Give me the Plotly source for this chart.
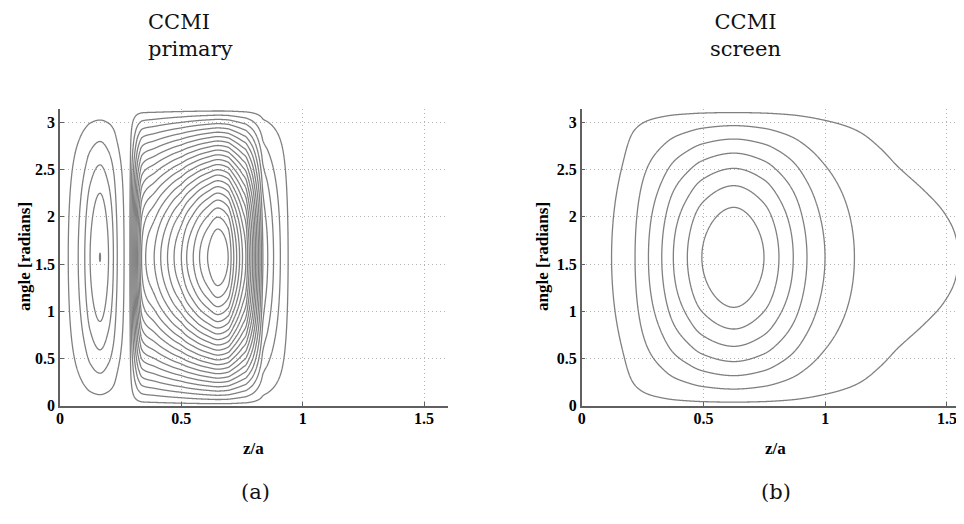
import numpy as np
import plotly.graph_objects as go

# ---------------- values ----------------
# Contours are of  g(z/a) * sin(angle)  with evenly spaced levels.
# For every drawn contour: its level and where it crosses the mid-line angle.

# (a) CCMI primary - small positive cell
a_cell1_levels = [0.0235, 0.0680, 0.1125, 0.1570]
a_cell1_left = [0.034, 0.075, 0.102, 0.124]
a_cell1_right = [0.264, 0.236, 0.220, 0.200]
a_cell1_peak = [0.165, 0.2017]

# (a) CCMI primary - large negative cell (outermost -> innermost)
a_cell2_levels = [-0.0210, -0.0655, -0.1100, -0.1545, -0.1990, -0.2435, -0.2880,
                  -0.3325, -0.3770, -0.4215, -0.4660, -0.5105, -0.5550, -0.5995,
                  -0.6440, -0.6885, -0.7330, -0.7775, -0.8220, -0.8665, -0.9110,
                  -0.9555]
a_cell2_left = [0.288, 0.292, 0.296, 0.300, 0.304, 0.308, 0.312, 0.316, 0.320,
                0.325, 0.330, 0.336, 0.353, 0.388, 0.415, 0.443, 0.470, 0.500,
                0.522, 0.549, 0.575, 0.608]
a_cell2_right = [0.940, 0.908, 0.880, 0.856, 0.836, 0.830, 0.824, 0.818, 0.812,
                 0.806, 0.800, 0.794, 0.787, 0.780, 0.773, 0.766, 0.752, 0.740,
                 0.728, 0.716, 0.705, 0.693]
a_cell2_peak = [0.650, -1.0]
a_zero_z = [0.0, 0.276, 0.962, 1.60]
a_level_start, a_level_end, a_level_step = -0.9555, 0.2015, 0.0445

# (b) CCMI screen (outermost -> innermost)
b_levels = [0.0375, 0.1750, 0.3125, 0.4500, 0.5875, 0.7250, 0.8625]
b_left = [0.123, 0.219, 0.274, 0.329, 0.376, 0.434, 0.493]
b_right = [1.547, 1.120, 0.999, 0.925, 0.869, 0.810, 0.749]
b_peak = [0.625, 1.0]
# extra points (its left flank and right tail)
b_outer_z = [0.0, 0.171, 1.220, 1.300, 1.400, 1.490, 1.620]
b_outer_g = [0.0, 0.070, 0.0960, 0.0650, 0.0500, 0.0420, 0.0290]
b_level_start, b_level_end, b_level_step = 0.0375, 0.8625, 0.1375

# axes
x_tick_vals = [0, 0.5, 1, 1.5]
x_tick_text = ["0", "0.5", "1", "1.5"]
y_tick_vals = [0, 0.5, 1, 1.5, 2, 2.5, 3]
y_tick_text = ["0", "0.5", "1", "1.5", "2", "2.5", "3"]


# ---------------- helpers ----------------
def pchip(xk, yk, x):
    xk = np.asarray(xk, float)
    yk = np.asarray(yk, float)
    h = np.diff(xk)
    d = np.diff(yk) / h
    n = len(xk)
    m = np.zeros(n)
    for k in range(1, n - 1):
        if d[k - 1] * d[k] > 0:
            w1 = 2 * h[k] + h[k - 1]
            w2 = h[k] + 2 * h[k - 1]
            m[k] = (w1 + w2) / (w1 / d[k - 1] + w2 / d[k])
    m[0] = d[0]
    m[-1] = d[-1]
    i = np.clip(np.searchsorted(xk, x) - 1, 0, n - 2)
    t = (x - xk[i]) / h[i]
    h00 = 2 * t**3 - 3 * t**2 + 1
    h10 = t**3 - 2 * t**2 + t
    h01 = -2 * t**3 + 3 * t**2
    h11 = t**3 - t**2
    return h00 * yk[i] + h10 * h[i] * m[i] + h01 * yk[i + 1] + h11 * h[i] * m[i + 1]


def profile(pairs, zgrid, smooth_pts=0):
    pairs = sorted(pairs)
    zs = [p[0] for p in pairs]
    gs = [p[1] for p in pairs]
    g = pchip(zs, gs, zgrid)
    if smooth_pts > 0:
        k = np.arange(-3 * smooth_pts, 3 * smooth_pts + 1)
        ker = np.exp(-0.5 * (k / smooth_pts) ** 2)
        ker /= ker.sum()
        gp = np.pad(g, len(k) // 2, mode="edge")
        g = np.convolve(gp, ker, mode="valid")
    return g


pa = []
pa += list(zip(a_cell1_left, a_cell1_levels)) + list(zip(a_cell1_right, a_cell1_levels))
pa += [tuple(a_cell1_peak)]
pa += list(zip(a_cell2_left, a_cell2_levels)) + list(zip(a_cell2_right, a_cell2_levels))
pa += [tuple(a_cell2_peak)]
pa += [(z, 0.0) for z in a_zero_z]

pb = list(zip(b_left, b_levels)) + list(zip(b_right, b_levels)) + [tuple(b_peak)]
pb += list(zip(b_outer_z, b_outer_g))

theta = np.linspace(0, np.pi, 316)
za = np.linspace(0, 1.0, 1001)
zb = np.linspace(0, 1.6, 801)
ga = profile(pa, za)
gb = profile(pb, zb, smooth_pts=4)
Fa = np.round(np.outer(np.sin(theta), ga), 6)
Fb = np.round(np.outer(np.sin(theta), gb), 6)

LINE = "#808080"
fig = go.Figure()
fig.add_trace(go.Contour(
    x=np.round(za, 4), y=np.round(theta, 5), z=Fa, xaxis="x", yaxis="y",
    contours=dict(start=a_level_start, end=a_level_end, size=a_level_step,
                  coloring="none", showlabels=False),
    line=dict(color=LINE, width=1.3, smoothing=1.0),
    showscale=False, hoverinfo="skip"))
fig.add_trace(go.Contour(
    x=np.round(zb, 4), y=np.round(theta, 5), z=Fb, xaxis="x2", yaxis="y2",
    contours=dict(start=b_level_start, end=b_level_end, size=b_level_step,
                  coloring="none", showlabels=False),
    line=dict(color=LINE, width=1.3, smoothing=1.0),
    showscale=False, hoverinfo="skip"))

# page has an 8px body margin: lay the figure out in screen pixels
OFF = 8
W, H = 964 - OFF, 524 - OFF


def px(x):
    return (x - OFF) / W


def py(y):
    return 1 - (y - OFF) / H


tickfont = dict(family="Liberation Serif", size=16, color="black")
common = dict(showline=True, linecolor="#606060", linewidth=1.5, mirror=False,
              ticks="inside", ticklen=4, tickcolor="#606060", automargin=False,
              showgrid=True, gridcolor="#b5b5b5", griddash="1px,3px", gridwidth=1,
              zeroline=False, tickfont=tickfont)
bx = ["<b>%s</b>" % t for t in x_tick_text]
by = ["<b>%s</b>" % t for t in y_tick_text]
ydom = [py(405.7), py(109)]
fig.update_layout(
    width=W, height=H, margin=dict(l=0, r=0, t=0, b=0, autoexpand=False),
    paper_bgcolor="white", plot_bgcolor="white", showlegend=False,
    xaxis=dict(domain=[px(60), px(448.3)], range=[0, 1.6], anchor="y",
               tickvals=x_tick_vals, ticktext=bx, ticklabelstandoff=-3, **common),
    yaxis=dict(domain=ydom, range=[0, np.pi], anchor="x",
               tickvals=y_tick_vals, ticktext=by, **common),
    xaxis2=dict(domain=[px(581.7), 1.0], range=[0, (964 - 581.7) / 243.5], anchor="y2",
                tickvals=x_tick_vals, ticktext=bx, ticklabelstandoff=-3, **common),
    yaxis2=dict(domain=ydom, range=[0, np.pi], anchor="x2",
                tickvals=y_tick_vals, ticktext=by, **common),
)

lab = dict(family="Liberation Serif", size=17, color="black")
ttl = dict(family="DejaVu Serif", size=21, color="#111111")
ann = [
    dict(x=px(25), y=py(257), text="<b>angle [radians]</b>", textangle=-90, font=lab),
    dict(x=px(543), y=py(257), text="<b>angle [radians]</b>", textangle=-90, font=lab),
    dict(x=px(253), y=py(448), text="<b>z/a</b>", font=lab),
    dict(x=px(775), y=py(448), text="<b>z/a</b>", font=lab),
    dict(x=px(146), y=py(8), text="CCMI<br>primary", xanchor="left", yanchor="top",
         align="left", font=ttl),
    dict(x=px(745), y=py(8), text="CCMI<br>screen", xanchor="center", yanchor="top",
         align="center", font=ttl),
    dict(x=px(255), y=py(492), text="(a)", font=ttl),
    dict(x=px(776), y=py(492), text="(b)", font=ttl),
]
for a in ann:
    a.setdefault("xanchor", "center")
    a.setdefault("yanchor", "middle")
    a.update(xref="paper", yref="paper", showarrow=False)
    fig.add_annotation(**a)

fig.write_html("out.html")
